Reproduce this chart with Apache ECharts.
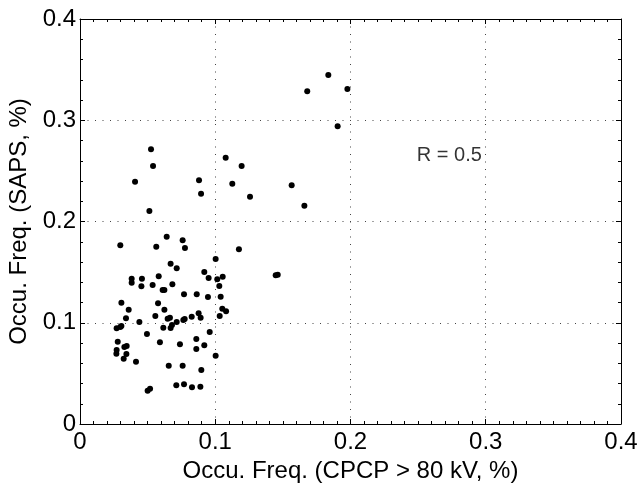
<!DOCTYPE html>
<html>
<head>
<meta charset="utf-8">
<script src="https://cdn.jsdelivr.net/npm/echarts@6/dist/echarts.min.js"></script>
<style>html,body{margin:0;padding:0;background:#fff}#c{width:640px;height:483px}</style>
</head>
<body>
<div id="c"></div>
<script>
const xTitle = 'Occu. Freq. (CPCP > 80 kV, %)';
const yTitle = 'Occu. Freq. (SAPS, %)';
const annotation = 'R = 0.5';
const annotationPos = [0.249, 0.2655];
const xVals = [0.1680,0.1836,0.1977,0.1905,0.0525,0.0540,0.0880,0.0895,0.0513,0.1077,0.1195,0.1126,0.1257,0.1565,0.1659,0.1175,0.1447,0.1462,0.0407,0.0298,0.0641,0.0759,0.0564,0.0776,0.1003,0.0670,0.0715,0.0919,0.0382,0.0458,0.0582,0.0951,0.1015,0.1055,0.0382,0.0454,0.1030,0.0537,0.0611,0.0624,0.0683,0.0769,0.0863,0.0946,0.1040,0.0306,0.0577,0.0360,0.0624,0.1052,0.1080,0.0340,0.0557,0.0648,0.0665,0.0877,0.0892,0.0826,0.1033,0.0439,0.0715,0.0764,0.0774,0.0271,0.0298,0.0306,0.0616,0.0680,0.0670,0.0495,0.0959,0.0279,0.0591,0.0739,0.0860,0.0919,0.0328,0.0345,0.0860,0.0271,0.0269,0.0343,0.0323,0.1003,0.0414,0.0656,0.0759,0.0897,0.0712,0.0769,0.0828,0.0890,0.0500,0.0518];
const yVals = [0.3286,0.3447,0.3309,0.2940,0.2713,0.2548,0.2407,0.2275,0.2104,0.2630,0.2548,0.2373,0.2245,0.2357,0.2156,0.1725,0.1469,0.1475,0.2393,0.1765,0.1850,0.1814,0.1751,0.1738,0.1630,0.1583,0.1538,0.1501,0.1435,0.1435,0.1459,0.1442,0.1429,0.1455,0.1396,0.1360,0.1363,0.1373,0.1323,0.1323,0.1380,0.1281,0.1281,0.1254,0.1257,0.1198,0.1192,0.1129,0.1129,0.1139,0.1113,0.1044,0.1067,0.1040,0.1050,0.1093,0.1050,0.1060,0.1067,0.1007,0.1007,0.1027,0.1037,0.0945,0.0958,0.0968,0.0951,0.0978,0.0948,0.0889,0.0909,0.0813,0.0807,0.0787,0.0840,0.0777,0.0760,0.0770,0.0741,0.0731,0.0694,0.0691,0.0645,0.0675,0.0616,0.0576,0.0576,0.0533,0.0382,0.0392,0.0362,0.0368,0.0329,0.0349];
const axisMin = 0, axisMax = 0.4, axisStep = 0.1;

const pts = xVals.map((x, i) => [x, yVals[i]]);
const font = 'Liberation Sans, Arial, Helvetica, sans-serif';
const gridLine = {show: true, lineStyle: {color: '#444', type: [1, 6.5], width: 1}};
function mkAxis(pos, isX, main) {
  return {
    type: 'value', position: pos, min: axisMin, max: axisMax, interval: axisStep,
    splitNumber: 4,
    axisLine: {show: true, onZero: false, lineStyle: {color: '#000', width: 1}},
    axisTick: {show: true, inside: true, length: 5, lineStyle: {color: '#000'}},
    minorTick: {show: true, splitNumber: isX ? 10 : 5, length: 3, lineStyle: {color: '#000'}},
    splitLine: main ? gridLine : {show: false},
    axisLabel: main ? {show: true, color: '#000', fontSize: 24, fontFamily: font, margin: isX ? 6 : 4,
      formatter: v => (Math.round(v * 10) / 10).toString()} : {show: false},
    name: main ? (isX ? xTitle : yTitle) : '',
    nameLocation: 'middle',
    nameGap: isX ? 31 : 46,
    nameTextStyle: {color: '#000', fontSize: 24, fontFamily: font}
  };
}
const chart = echarts.init(document.getElementById('c'), null, {renderer: 'canvas'});
chart.setOption({
  animation: false,
  backgroundColor: '#fff',
  grid: {left: 80, right: 19, top: 19, bottom: 59, containLabel: false, outerBoundsMode: 'none'},
  xAxis: [mkAxis('bottom', true, true), mkAxis('top', true, false)],
  yAxis: [mkAxis('left', false, true), mkAxis('right', false, false)],
  series: [
    {type: 'scatter', xAxisIndex: 0, yAxisIndex: 0, data: pts, symbol: 'circle', symbolSize: 6,
     itemStyle: {color: '#000', opacity: 1}, silent: true},
    {type: 'scatter', xAxisIndex: 0, yAxisIndex: 0, data: [annotationPos], symbolSize: 0,
     label: {show: true, position: 'right', distance: 0, formatter: annotation, color: '#000', fontSize: 20, fontFamily: font},
     silent: true}
  ]
});
</script>
</body>
</html>
